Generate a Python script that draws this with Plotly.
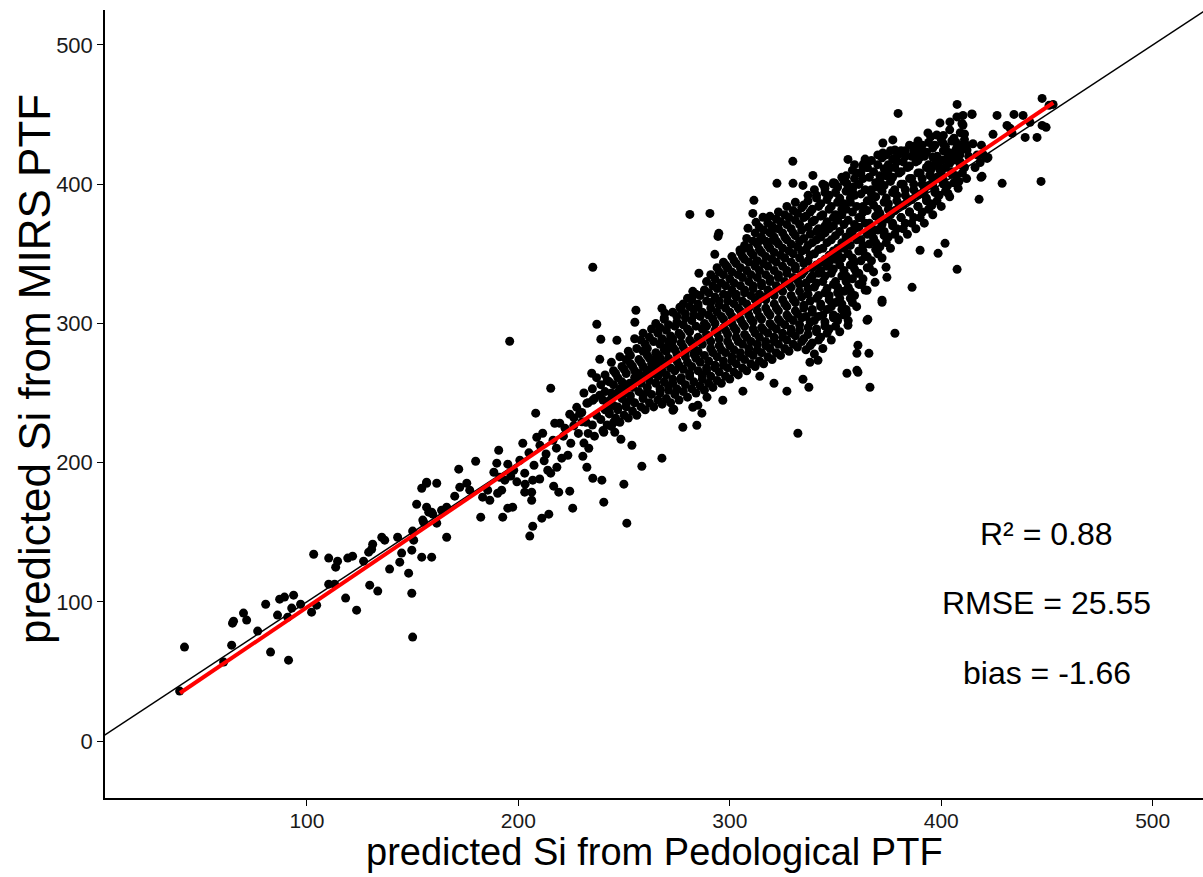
import plotly.graph_objects as go

# ---- data (predicted Si: Pedological PTF vs MIRS PTF) ----
lower_tail = [
    (42.1, 67.5), (39.8, 35.9), (60.6, 56.7), (64.4, 68.9), (64.8, 84.7), (65.3, 86.1),
    (70.0, 91.9), (71.5, 86.9), (76.7, 79.0), (80.5, 98.3), (82.8, 63.9), (86.1, 90.5),
    (87.1, 101.9), (89.4, 103.4), (91.3, 58.1), (90.9, 89.0), (92.8, 95.5), (93.7, 104.8),
    (97.0, 98.3), (102.2, 92.6), (104.6, 97.6), (103.2, 134.2), (110.3, 131.4), (113.6, 124.9),
    (114.5, 129.2), (110.3, 112.7), (113.1, 112.7), (118.3, 102.7), (119.3, 131.4), (121.6, 132.8),
    (123.5, 94.0), (126.8, 129.2), (129.2, 135.7), (131.1, 141.4), (130.6, 137.8), (129.7, 112.0),
    (133.5, 107.7), (135.4, 146.4), (136.8, 144.3), (139.1, 123.5), (142.9, 146.4), (144.8, 135.0),
    (143.9, 128.5), (148.1, 120.6), (149.6, 106.2), (150.0, 74.7), (149.6, 137.1), (150.5, 144.3),
    (150.0, 150.8), (154.3, 132.1), (159.0, 132.1), (151.9, 170.1), (155.2, 157.2), (157.6, 164.4),
    (159.5, 163.0), (154.3, 181.6), (156.6, 185.2), (161.4, 185.2), (161.4, 156.5),
]

middle_tail = [
    (166.1, 146.4), (182.2, 160.8), (192.6, 160.8), (195.0, 167.3), (197.3, 168.0), (206.3, 173.0),
    (206.3, 178.8), (203.0, 178.8), (206.8, 187.4), (206.8, 154.3), (205.4, 147.2), (211.1, 160.1),
    (214.4, 163.0), (225.7, 167.3), (219.1, 178.8), (224.3, 179.5), (216.7, 183.1), (235.2, 188.8),
    (239.5, 187.4), (240.4, 171.6), (249.9, 184.5), (251.3, 156.5), (258.4, 197.4), (267.9, 203.2),
    (253.7, 212.5), (248.5, 216.8), (232.4, 196.7), (230.5, 204.6), (233.3, 210.3), (240.4, 221.8),
    (245.6, 221.8), (245.1, 229.0), (224.8, 213.9), (223.4, 205.3), (220.5, 203.2), (218.2, 196.7),
    (215.3, 192.4), (213.9, 194.5), (203.0, 192.4), (197.8, 194.5), (195.0, 198.9), (200.7, 201.7),
    (189.8, 199.6), (188.4, 193.1), (191.2, 189.5), (193.6, 187.4), (192.1, 180.2), (190.2, 178.0),
    (185.5, 180.2), (183.1, 175.2), (186.5, 173.0), (175.6, 185.2), (177.0, 180.2), (172.3, 182.3),
    (169.9, 175.9), (166.1, 168.0), (163.7, 165.8), (159.0, 164.4), (156.6, 168.0), (154.8, 158.7),
    (179.8, 201.0), (171.8, 195.3), (190.7, 208.9), (208.2, 235.5), (215.3, 253.4), (156.6, 185.9),
    (202.1, 213.9), (208.7, 218.2), (211.5, 221.1), (217.2, 228.3), (219.6, 228.3), (224.3, 234.7),
    (227.6, 239.7), (232.4, 242.6), (235.2, 244.8), (238.5, 248.4), (241.8, 239.7), (243.3, 244.8),
    (246.6, 249.8), (249.4, 253.4), (252.7, 257.0), (257.5, 261.3), (260.8, 266.3), (263.6, 273.5),
    (266.9, 275.6), (270.2, 282.8), (273.1, 287.9),
    (205.0, 207.0), (210.2, 212.4), (213.1, 206.2), (216.4, 216.1), (221.3, 219.0), (222.1, 224.6),
    (226.2, 226.5), (228.4, 221.0), (230.1, 229.3), (229.0, 235.2), (226.3, 232.1), (218.0, 210.4),
    (212.2, 201.3), (207.4, 198.1), (199.3, 186.2), (196.4, 190.3), (203.2, 184.5), (210.1, 188.2),
]

upper_outliers = [
    (235.2, 340.3), (195.9, 287.2), (255.6, 309.4), (255.1, 300.8), (237.1, 299.4), (239.0, 288.6),
    (246.6, 287.9), (267.9, 310.8), (269.3, 307.3), (238.5, 274.2), (234.7, 264.2), (281.1, 378.3),
    (290.6, 379.0), (294.8, 364.7), (294.4, 362.5), (292.9, 349.6), (285.4, 336.0), (282.5, 323.0),
    (281.6, 318.0), (276.4, 311.6), (311.4, 388.4), (310.9, 379.0), (312.4, 372.6), (322.3, 400.6),
    (329.9, 400.6), (334.6, 399.1), (339.3, 406.3), (345.0, 399.1), (349.7, 400.6), (355.4, 400.6),
    (358.3, 397.7), (308.6, 368.3), (315.7, 376.2), (319.9, 366.8), (320.4, 359.7), (314.2, 359.7),
    (305.7, 352.5), (329.8, 416.4), (298.6, 340.5), (304.8, 352.7),
]

lower_outliers = [
    (306.2, 251.3), (314.2, 262.0), (320.9, 257.0), (327.0, 251.3), (334.6, 259.9), (337.4, 254.1),
    (296.7, 244.8), (289.2, 247.0), (282.5, 239.8), (284.9, 241.2), (273.5, 238.3), (277.8, 225.4),
    (284.4, 226.8), (355.4, 264.2), (360.1, 266.3), (355.9, 298.6), (350.7, 304.4), (378.1, 292.9),
    (365.3, 302.9), (360.6, 284.3), (360.1, 278.5), (365.8, 278.5), (360.6, 264.9), (366.3, 254.1),
    (332.2, 221.1), (341.7, 273.5), (337.9, 272.1), (355.4, 307.3), (372.0, 315.2), (273.1, 237.6),
    (286.8, 235.5),
]

right_outliers = [
    (390.0, 352.5), (398.5, 350.3), (401.8, 357.5), (407.5, 338.8), (386.2, 325.9), (373.9, 340.3),
    (374.3, 333.1), (368.7, 329.5), (372.0, 316.6), (362.5, 328.8), (364.9, 323.8), (364.9, 302.2),
    (417.9, 389.1), (395.6, 384.8), (403.2, 393.4), (408.4, 402.0), (418.8, 404.9), (428.8, 400.6),
    (447.2, 402.0), (419.3, 405.6),
]

upper_right = [
    (407.5, 457.3), (379.6, 450.8), (447.7, 461.6), (451.0, 456.6), (426.4, 449.4), (434.4, 450.1),
    (438.7, 449.4), (439.7, 433.6), (445.3, 433.6), (447.7, 442.2), (449.6, 440.8), (452.9, 457.3),
    (424.5, 435.8), (431.1, 442.2), (432.6, 440.1), (433.5, 436.5), (421.7, 418.5), (418.4, 415.6),
    (414.6, 450.1), (410.3, 449.4), (409.8, 443.6), (442.0, 444.4), (422.1, 419.2), (355.9, 417.8),
    (363.9, 416.4), (363.0, 412.1), (414.5, 450.4), (410.3, 442.5), (407.4, 448.3), (404.1, 444.7),
    (399.4, 444.0), (397.9, 435.3), (400.8, 429.6), (393.7, 436.8), (389.0, 429.6), (387.6, 421.0),
    (389.9, 419.5), (396.0, 419.5), (397.9, 413.8), (400.8, 417.4), (404.1, 422.4), (409.8, 428.2),
    (412.2, 424.6), (408.8, 421.0), (406.5, 417.4), (372.4, 429.6), (377.1, 431.8), (378.1, 424.6),
    (372.4, 422.4), (370.0, 421.0), (397.9, 417.4), (399.4, 410.2), (400.3, 403.0), (397.0, 413.8),
    (394.6, 406.6), (396.0, 399.4),
]

dense_core_a = [
    (231, 214), (233, 221), (232, 229), (230, 236), (233, 243), (231, 250),
    (236, 219), (235, 227), (237, 234), (236, 246), (235, 253), (237, 261),
    (240, 223), (239, 231), (241, 238), (240, 245), (239, 256), (241, 263),
    (244, 226), (243, 235), (245, 241), (244, 250), (243, 258), (245, 266), (244, 272),
    (248, 229), (247, 238), (249, 246), (248, 253), (247, 261), (249, 269), (248, 276),
    (252, 232), (251, 240), (253, 248), (252, 256), (251, 264), (253, 271), (252, 280),
    (256, 234), (255, 243), (257, 251), (256, 258), (255, 266), (257, 274), (256, 282), (255, 289),
    (260, 238), (259, 246), (261, 254), (260, 262), (259, 269), (261, 277), (260, 285), (259, 293),
    (264, 240), (263, 249), (265, 257), (264, 264), (263, 271), (265, 279), (264, 287), (263, 296),
    (268, 242), (267, 250), (269, 258), (268, 266), (267, 273), (269, 281), (268, 289), (267, 297), (269, 304),
    (272, 243), (271, 252), (273, 260), (272, 268), (271, 275), (273, 283), (272, 291), (271, 299), (273, 308),
    (276, 245), (275, 253), (277, 261), (276, 270), (275, 278), (277, 286), (276, 293), (275, 301), (277, 310),
    (280, 247), (279, 256), (281, 264), (280, 272), (279, 280), (281, 288), (280, 296), (279, 304), (281, 312), (280, 318),
    (284, 250), (283, 258), (285, 266), (284, 275), (283, 282), (285, 290), (284, 298), (283, 306), (285, 314), (284, 321),
    (288, 252), (287, 260), (289, 268), (288, 277), (287, 285), (289, 292), (288, 300), (287, 308), (289, 316), (288, 324),
    (292, 254), (291, 262), (293, 270), (292, 279), (291, 287), (293, 295), (292, 303), (291, 311), (293, 319), (292, 327), (291, 335),
    (296, 257), (295, 265), (297, 273), (296, 281), (295, 289), (297, 297), (296, 305), (295, 313), (297, 321), (296, 329), (295, 337), (297, 344),
]

dense_core_b = [
    (300, 260), (299, 268), (301, 276), (300, 284), (299, 292), (301, 300), (300, 308), (299, 316), (301, 324), (300, 332), (299, 340), (301, 348),
    (304, 263), (303, 271), (305, 279), (304, 287), (303, 295), (305, 303), (304, 311), (303, 319), (305, 327), (304, 335), (303, 343), (305, 351),
    (308, 266), (307, 274), (309, 282), (308, 290), (307, 298), (309, 306), (308, 314), (307, 322), (309, 330), (308, 338), (307, 346), (309, 354), (308, 361),
    (312, 269), (311, 277), (313, 285), (312, 293), (311, 301), (313, 309), (312, 317), (311, 325), (313, 333), (312, 341), (311, 349), (313, 357), (312, 365),
    (316, 271), (315, 279), (317, 287), (316, 295), (315, 303), (317, 311), (316, 319), (315, 327), (317, 335), (316, 343), (315, 351), (317, 359), (316, 367),
    (320, 274), (319, 282), (321, 290), (320, 298), (319, 306), (321, 314), (320, 322), (319, 330), (321, 338), (320, 346), (319, 354), (321, 362), (320, 370), (319, 377),
    (324, 277), (323, 285), (325, 293), (324, 301), (323, 309), (325, 317), (324, 325), (323, 333), (325, 341), (324, 349), (323, 357), (325, 365), (324, 373), (323, 380),
    (328, 280), (327, 288), (329, 296), (328, 304), (327, 312), (329, 320), (328, 328), (327, 336), (329, 344), (328, 352), (327, 360), (329, 368), (328, 376), (327, 384),
    (332, 283), (331, 291), (333, 299), (332, 307), (331, 315), (333, 323), (332, 331), (331, 339), (333, 347), (332, 355), (331, 363), (333, 371), (332, 379), (331, 387),
    (336, 281), (335, 289), (337, 297), (336, 305), (335, 313), (337, 321), (336, 329), (335, 337), (337, 345), (336, 353), (335, 361), (337, 369), (336, 377), (335, 385), (337, 392),
    (340, 278), (339, 286), (341, 294), (340, 302), (339, 310), (341, 318), (340, 326), (339, 334), (341, 342), (340, 350), (339, 358), (341, 366), (340, 374), (339, 382), (341, 390), (340, 396),
    (344, 282), (343, 290), (345, 298), (344, 306), (343, 314), (345, 322), (344, 330), (343, 338), (345, 346), (344, 354), (343, 362), (345, 370), (344, 378), (343, 386), (345, 394), (344, 400),
]

dense_core_c = [
    (348, 288), (347, 296), (349, 304), (348, 312), (347, 320), (349, 328), (348, 336), (347, 344), (349, 352), (348, 360), (347, 368), (349, 376), (348, 384), (347, 392), (349, 400),
    (352, 294), (351, 302), (353, 310), (352, 318), (351, 326), (353, 334), (352, 342), (351, 350), (353, 358), (352, 366), (351, 374), (353, 382), (352, 390), (351, 398), (353, 405),
    (356, 302), (355, 310), (357, 318), (356, 326), (355, 334), (357, 342), (356, 350), (355, 358), (357, 366), (356, 374), (355, 382), (357, 390), (356, 398), (355, 406),
    (360, 312), (359, 320), (361, 328), (360, 336), (359, 344), (361, 352), (360, 360), (359, 368), (361, 376), (360, 384), (359, 392), (361, 400), (360, 408), (359, 414),
    (364, 324), (363, 332), (365, 340), (364, 348), (363, 356), (365, 364), (364, 372), (363, 380), (365, 388), (364, 396), (363, 404), (365, 412), (364, 418),
    (368, 337), (367, 345), (369, 353), (368, 361), (367, 369), (369, 377), (368, 385), (367, 393), (369, 401), (368, 409), (367, 417),
    (372, 347), (371, 355), (373, 363), (372, 371), (371, 379), (373, 387), (372, 395), (371, 403), (373, 411), (372, 419),
    (376, 354), (375, 362), (377, 370), (376, 378), (375, 386), (377, 394), (376, 402), (375, 410), (377, 418), (376, 424),
    (380, 360), (379, 368), (381, 376), (380, 384), (379, 392), (381, 400), (380, 408), (379, 416), (381, 424),
    (384, 364), (383, 372), (385, 380), (384, 388), (383, 396), (385, 404), (384, 412), (383, 420), (385, 428),
    (388, 368), (387, 376), (389, 384), (388, 392), (387, 400), (389, 408), (388, 416), (387, 424), (389, 431),
    (392, 372), (391, 380), (393, 388), (392, 396), (391, 404), (393, 412), (392, 420), (391, 428),
    (396, 378), (395, 386), (397, 394), (396, 402), (395, 410), (397, 418), (396, 426), (395, 434),
    (400, 384), (399, 392), (401, 400), (400, 408), (399, 416), (401, 424), (400, 432),
    (404, 391), (403, 399), (405, 407), (404, 415), (403, 423), (405, 431), (404, 439),
    (408, 397), (407, 406), (409, 414), (408, 422), (407, 430), (409, 437),
    (412, 404), (411, 412), (413, 420), (412, 428), (411, 436),
    (416, 412), (417, 421), (415, 429), (420, 421), (419, 428),
]

# extra points packed between the rows of the densest part of the cloud
core_fill_a = [
    (242, 227), (243, 236), (242, 243), (241, 251), (242, 259),
    (246, 232), (247, 240), (246, 249), (245, 256), (246, 264),
    (250, 234), (251, 243), (250, 250), (249, 258), (250, 267), (251, 274),
    (254, 237), (253, 245), (254, 254), (255, 261), (254, 269), (253, 277),
    (258, 240), (259, 248), (258, 257), (257, 264), (258, 272), (259, 280), (258, 288),
    (262, 243), (261, 251), (262, 259), (263, 266), (262, 275), (261, 282), (262, 290),
    (266, 245), (267, 253), (266, 262), (265, 269), (266, 277), (267, 285), (266, 293), (265, 300),
    (270, 246), (271, 255), (270, 263), (269, 271), (270, 280), (271, 287), (270, 295), (269, 303),
    (274, 249), (273, 257), (274, 266), (275, 273), (274, 281), (273, 289), (274, 298), (275, 305),
    (278, 251), (277, 259), (278, 267), (279, 276), (278, 283), (277, 291), (278, 299), (279, 307), (278, 314),
    (282, 253), (281, 262), (282, 269), (283, 278), (282, 286), (281, 294), (282, 302), (283, 310), (282, 317),
    (286, 255), (287, 263), (286, 272), (285, 280), (286, 288), (287, 296), (286, 305), (285, 312), (286, 320),
    (290, 257), (289, 266), (290, 273), (291, 282), (290, 290), (289, 298), (290, 306), (291, 315), (290, 322), (289, 330),
    (294, 259), (293, 268), (294, 276), (295, 284), (294, 293), (293, 300), (294, 308), (295, 316), (294, 325), (293, 332), (294, 340),
    (298, 262), (297, 270), (298, 279), (299, 287), (298, 295), (297, 303), (298, 311), (299, 320), (298, 327), (297, 335), (298, 342),
]

core_fill_b = [
    (302, 265), (301, 273), (302, 281), (303, 290), (302, 297), (301, 305), (302, 314), (303, 321), (302, 329), (301, 337), (302, 345),
    (306, 268), (305, 276), (306, 285), (307, 292), (306, 300), (305, 309), (306, 316), (307, 324), (306, 333), (305, 340), (306, 348), (307, 356),
    (310, 271), (309, 279), (310, 287), (311, 296), (310, 303), (309, 311), (310, 320), (311, 327), (310, 335), (309, 344), (310, 351), (311, 359),
    (314, 273), (313, 281), (314, 290), (315, 297), (314, 305), (313, 314), (314, 321), (315, 329), (314, 338), (313, 345), (314, 353), (315, 362), (314, 369),
    (318, 276), (317, 284), (318, 293), (319, 300), (318, 308), (317, 317), (318, 324), (319, 332), (318, 341), (317, 348), (318, 356), (319, 365), (318, 372),
    (322, 279), (321, 287), (322, 296), (323, 303), (322, 311), (321, 320), (322, 327), (323, 335), (322, 344), (321, 351), (322, 359), (323, 368), (322, 375),
    (326, 282), (325, 290), (326, 299), (327, 306), (326, 314), (325, 323), (326, 330), (327, 338), (326, 347), (325, 354), (326, 362), (327, 371), (326, 378),
    (330, 285), (329, 293), (330, 302), (331, 309), (330, 317), (329, 326), (330, 333), (331, 341), (330, 350), (329, 357), (330, 365), (331, 374), (330, 381),
    (334, 287), (333, 295), (334, 304), (335, 311), (334, 319), (333, 328), (334, 335), (335, 343), (334, 352), (333, 359), (334, 367), (335, 376), (334, 383),
    (338, 284), (337, 292), (338, 301), (339, 308), (338, 316), (337, 325), (338, 332), (339, 340), (338, 349), (337, 356), (338, 364), (339, 373), (338, 380), (337, 388),
    (342, 288), (341, 296), (342, 305), (343, 312), (342, 320), (341, 329), (342, 336), (343, 344), (342, 353), (341, 360), (342, 368), (343, 377), (342, 384), (341, 392),
    (346, 293), (345, 301), (346, 310), (347, 317), (346, 325), (345, 334), (346, 341), (347, 349), (346, 358), (345, 365), (346, 373), (347, 382), (346, 389), (345, 397),
]

core_fill_c = [
    (350, 298), (349, 306), (350, 315), (351, 322), (350, 330), (349, 339), (350, 346), (351, 354), (350, 363), (349, 370), (350, 378), (351, 387), (350, 394), (349, 401),
    (354, 306), (353, 314), (354, 323), (355, 330), (354, 338), (353, 347), (354, 354), (355, 362), (354, 371), (353, 378), (354, 386), (355, 395), (354, 402),
    (358, 315), (357, 323), (358, 332), (359, 339), (358, 347), (357, 356), (358, 363), (359, 371), (358, 380), (357, 387), (358, 395), (359, 404), (358, 410),
    (362, 328), (361, 336), (362, 345), (363, 352), (362, 360), (361, 369), (362, 376), (363, 384), (362, 393), (361, 400), (362, 408), (363, 414),
    (366, 340), (365, 348), (366, 357), (367, 364), (366, 372), (365, 381), (366, 388), (367, 396), (366, 405), (365, 412),
    (370, 350), (369, 358), (370, 367), (371, 374), (370, 382), (369, 391), (370, 398), (371, 406), (370, 414),
    (374, 358), (373, 366), (374, 375), (375, 382), (374, 390), (373, 399), (374, 406), (375, 414), (374, 421),
    (378, 364), (377, 372), (378, 381), (379, 388), (378, 396), (377, 405), (378, 412), (379, 420),
    (382, 368), (381, 376), (382, 385), (383, 392), (382, 400), (381, 409), (382, 416), (383, 424),
    (386, 372), (385, 380), (386, 389), (387, 396), (386, 404), (385, 413), (386, 420), (387, 427),
    (390, 376), (389, 384), (390, 393), (391, 400), (390, 408), (389, 417), (390, 424),
    (394, 382), (393, 390), (394, 399), (395, 406), (394, 414), (393, 423), (394, 430),
    (398, 388), (397, 396), (398, 405), (399, 412), (398, 420), (397, 428),
    (402, 395), (401, 403), (402, 412), (403, 419), (402, 427), (401, 435),
    (406, 401), (405, 409), (406, 418), (407, 425), (406, 433),
    (410, 408), (409, 416), (410, 425), (411, 432),
]

identity_x = [0, 600]
identity_y = [0, 600]
fit_x = [40.0, 453.0]
fit_y = [34.5, 458.5]

stats_labels = ["R\u00b2 = 0.88", "RMSE = 25.55", "bias = -1.66"]
stats_x = [450, 450, 450]
stats_y = [149, 99, 49]

x_ticks = [100, 200, 300, 400, 500]
y_ticks = [0, 100, 200, 300, 400, 500]

all_points = (lower_tail + middle_tail + upper_outliers + lower_outliers + right_outliers
              + upper_right + dense_core_a + dense_core_b + dense_core_c
              + core_fill_a + core_fill_b + core_fill_c)
ped_x = [p[0] for p in all_points]
mirs_y = [p[1] for p in all_points]

FONT = "Liberation Sans, Arial, sans-serif"

fig = go.Figure()
fig.add_trace(go.Scatter(x=ped_x, y=mirs_y, mode="markers",
                         marker=dict(color="black", size=9, line=dict(width=0)),
                         showlegend=False, hoverinfo="x+y"))
fig.add_trace(go.Scatter(x=identity_x, y=identity_y, mode="lines",
                         line=dict(color="black", width=1.5), showlegend=False))
fig.add_trace(go.Scatter(x=fit_x, y=fit_y, mode="lines",
                         line=dict(color="#FF0000", width=4), showlegend=False))

for lab, sx, sy in zip(stats_labels, stats_x, stats_y):
    fig.add_annotation(x=sx, y=sy, xref="x", yref="y", text=lab, showarrow=False,
                       xanchor="center", yanchor="middle",
                       font=dict(family=FONT, size=32, color="black"))

# axis titles (bottom one anchored to its top so it sits just below the tick labels)
fig.add_annotation(x=0.5, y=-0.0393, xref="paper", yref="paper",
                   text="predicted Si from Pedological PTF", showarrow=False,
                   xanchor="center", yanchor="top",
                   font=dict(family=FONT, size=38, color="black"))
fig.add_annotation(x=-0.0647, y=0.5444, xref="paper", yref="paper",
                   text="predicted Si from MIRS PTF", showarrow=False, textangle=-90,
                   xanchor="center", yanchor="middle",
                   font=dict(family=FONT, size=44, color="black"))

fig.update_layout(
    width=1203, height=877,
    margin=dict(l=105, r=0, t=10, b=79),
    paper_bgcolor="white", plot_bgcolor="white",
    font=dict(family=FONT, color="black"),
    showlegend=False,
)
fig.update_xaxes(range=[4.5, 523.8], tickvals=x_ticks, showgrid=False, zeroline=False,
                 showline=True, linecolor="black", linewidth=1.5,
                 ticks="outside", ticklen=6, tickwidth=1.2, tickcolor="black",
                 ticklabelstandoff=-3,
                 tickfont=dict(family=FONT, size=21, color="#1a1a1a"))
fig.update_yaxes(range=[-40.9, 525.1], tickvals=y_ticks, showgrid=False, zeroline=False,
                 showline=True, linecolor="black", linewidth=1.5,
                 ticks="outside", ticklen=6, tickwidth=1.2, tickcolor="black",
                 tickfont=dict(family=FONT, size=22, color="#1a1a1a"))

fig.write_html("out.html")
